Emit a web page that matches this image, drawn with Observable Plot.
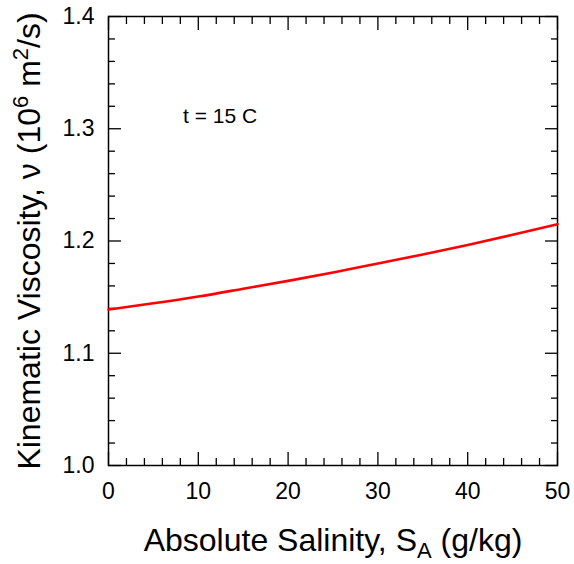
<!DOCTYPE html>
<html><head><meta charset="utf-8">
<script src="https://cdn.jsdelivr.net/npm/d3@7"></script>
<script src="https://cdn.jsdelivr.net/npm/@observablehq/plot@0.6"></script>
<style>body{margin:0;background:#fff} svg{display:block}</style>
</head><body><div id="chart"></div>
<script>
// Data
const salinity  = [0, 5, 10, 15, 20, 25, 30, 35, 40, 45, 50];
const viscosity = [1.139, 1.1445, 1.1505, 1.1575, 1.1645, 1.172, 1.180, 1.188, 1.1965, 1.2055, 1.215];
const xMajor = [0, 10, 20, 30, 40, 50];
const xMinor = [2, 4, 6, 8, 12, 14, 16, 18, 22, 24, 26, 28, 32, 34, 36, 38, 42, 44, 46, 48];
const yMajor = [1.0, 1.1, 1.2, 1.3, 1.4];
const yMinor = [1.02, 1.04, 1.06, 1.08, 1.12, 1.14, 1.16, 1.18, 1.22, 1.24, 1.26, 1.28, 1.32, 1.34, 1.36, 1.38];
const annotation = [{S: 8.3, v: 1.311, label: "t = 15 C"}];

const data = salinity.map((s, i) => ({S: s, v: viscosity[i]}));

const tickStyle = {fill: "none", label: null, stroke: "black", strokeWidth: 1.3};

const plot = Plot.plot({
  width: 574,
  height: 564,
  marginLeft: 108,
  marginRight: 17,
  marginTop: 16,
  marginBottom: 99,
  style: {fontFamily: "'Liberation Sans', Arial, sans-serif", fontSize: "23px", background: "white", color: "black"},
  x: {domain: [0, 50]},
  y: {domain: [1.0, 1.4]},
  marks: [
    // major / minor ticks, inward on all four sides
    Plot.axisX(xMajor, {...tickStyle, anchor: "bottom", tickSize: -13}),
    Plot.axisX(xMajor, {...tickStyle, anchor: "top", tickSize: -13}),
    Plot.axisX(xMinor, {...tickStyle, anchor: "bottom", tickSize: -7}),
    Plot.axisX(xMinor, {...tickStyle, anchor: "top", tickSize: -7}),
    Plot.axisY(yMajor, {...tickStyle, anchor: "left", tickSize: -13}),
    Plot.axisY(yMajor, {...tickStyle, anchor: "right", tickSize: -13}),
    Plot.axisY(yMinor, {...tickStyle, anchor: "left", tickSize: -7}),
    Plot.axisY(yMinor, {...tickStyle, anchor: "right", tickSize: -7}),
    // tick labels and axis titles
    Plot.axisX(xMajor, {anchor: "bottom", tickSize: 0, tickPadding: 17, fontSize: 23,
      label: "Absolute Salinity, SA (g/kg)", labelAnchor: "center", labelOffset: 85, labelArrow: "none"}),
    Plot.axisY(yMajor, {anchor: "left", tickSize: 0, tickPadding: 14, fontSize: 23, tickFormat: d3.format(".1f"),
      label: "Kinematic Viscosity, ν (106 m2/s)", labelAnchor: "center", labelOffset: 91, labelArrow: "none"}),
    Plot.frame({stroke: "black", strokeWidth: 1.5}),
    Plot.line(data, {x: "S", y: "v", stroke: "#ff0000", strokeWidth: 2.6, curve: "natural"}),
    Plot.text(annotation, {x: "S", y: "v", text: "label", textAnchor: "start", fontSize: 21})
  ]
});

document.getElementById("chart").append(plot);

const svg = d3.select(plot);

// rich-text axis titles (sub/superscripts)
const xl = svg.select('g[aria-label="x-axis label"] text');
xl.attr("font-size", 32).text(null);
xl.append("tspan").text("Absolute Salinity, S");
xl.append("tspan").attr("font-size", 22).attr("dy", 7).text("A");
xl.append("tspan").attr("dy", -7).text(" (g/kg)");

const yl = svg.select('g[aria-label="y-axis label"] text');
yl.attr("font-size", 32).text(null);
yl.append("tspan").text("Kinematic Viscosity, ν (10");
yl.append("tspan").attr("font-size", 22).attr("dy", -12).text("6");
yl.append("tspan").attr("dy", 12).text(" m");
yl.append("tspan").attr("font-size", 22).attr("dy", -12).text("2");
yl.append("tspan").attr("dy", 12).text("/s)");
</script>
</body></html>
